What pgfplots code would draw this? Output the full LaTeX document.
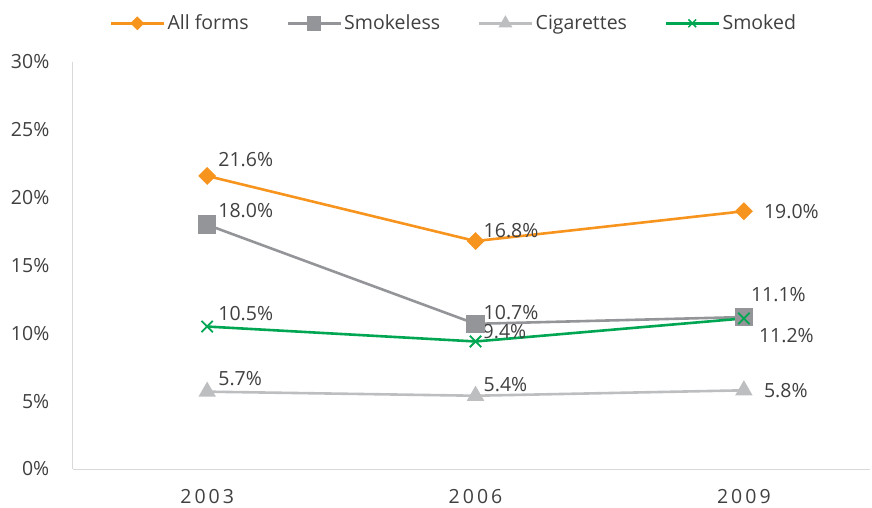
\documentclass[border=0pt]{standalone}
\usepackage{pgfplots}
\pgfplotsset{compat=1.18}
\usepackage{fontspec}
\setmainfont{Open Sans}
\definecolor{cAll}{HTML}{F7941D}
\definecolor{cSmkl}{HTML}{939598}
\definecolor{cCig}{HTML}{BCBEC0}
\definecolor{cSmkd}{HTML}{00A651}
\definecolor{txt}{HTML}{404040}
\definecolor{axl}{HTML}{D9D9D9}
\newcommand{\fs}{\fontsize{19.5}{22}\selectfont}
\begin{document}
\fs
\begin{tikzpicture}[x=1pt,y=1pt]
\path[use as bounding box] (-73,-39) rectangle (799,469);
\begin{axis}[
  at={(0,0)}, anchor=south west,
  scale only axis, width=797pt, height=407pt,
  xmin=-0.5, xmax=2.47, ymin=0, ymax=30,
  xtick={0,1,2}, xticklabels={2\hspace{3pt}0\hspace{3pt}0\hspace{3pt}3,2\hspace{3pt}0\hspace{3pt}0\hspace{3pt}6,2\hspace{3pt}0\hspace{3pt}0\hspace{3pt}9},
  ytick={0,5,10,15,20,25,30},
  yticklabels={0\%,5\%,10\%,15\%,20\%,25\%,30\%},
  major tick length=0pt,
  axis x line*=bottom, axis y line*=left,
  axis line style={axl, line width=1pt, -},
  every axis x line/.append style={-},
  every axis y line/.append style={-},
  ticklabel style={text=txt, font=\fs},
  yticklabel style={xshift=-17pt},
  xticklabel style={yshift=-14pt},
  legend style={at={(0.478,1.095)}, anchor=center, draw=none, fill=none,
    legend columns=-1, font=\fs, text=txt,
    /tikz/every even column/.append style={column sep=36pt}},
  legend image code/.code={\draw[mark repeat=2,mark phase=2] plot coordinates {(0pt,0pt) (26pt,0pt) (53pt,0pt)};},
  every axis plot/.append style={line width=2.6pt},
  clip=false,
]
\addlegendimage{cAll, line width=2.6pt, mark=square*, mark size=3.6pt, mark options={rotate=45, solid}}
\addlegendentry{All forms}
\addlegendimage{cSmkl, line width=2.6pt, mark=square*, mark size=6pt, mark options={solid}}
\addlegendentry{Smokeless}
\addlegendimage{cCig, line width=2.6pt, mark=triangle*, mark size=5.5pt, mark options={solid}}
\addlegendentry{Cigarettes}
\addlegendimage{cSmkd, line width=2.6pt, mark=x, mark size=5.5pt, mark options={solid, line width=1.5pt}}
\addlegendentry{Smoked}
\addplot[forget plot, cAll, mark=square*, mark size=5pt, mark options={rotate=45, solid}] coordinates {(0,21.6) (1,16.8) (2,19.0)};
\addplot[forget plot, cSmkl, mark=square*, mark size=8pt, mark options={solid}] coordinates {(0,18.0) (1,10.7) (2,11.2)};
\addplot[forget plot, cCig, mark=triangle*, mark size=7.5pt, mark options={solid}] coordinates {(0,5.7) (1,5.4) (2,5.8)};
\addplot[forget plot, cSmkd, mark=x, mark size=8pt, mark options={solid, line width=1.8pt}] coordinates {(0,10.5) (1,9.4) (2,11.1)};
\begin{scope}[every node/.style={text=txt, inner sep=0pt, anchor=base west, font=\fs}]
\node[xshift=11pt, yshift=9pt] at (axis cs:0,21.6) {21.6\%};
\node[xshift=8pt, yshift=4pt] at (axis cs:1,16.8) {16.8\%};
\node[xshift=20pt, yshift=-7pt] at (axis cs:2,19.0) {19.0\%};
\node[xshift=11pt, yshift=7pt] at (axis cs:0,18.0) {18.0\%};
\node[xshift=8pt, yshift=4pt] at (axis cs:1,10.7) {10.7\%};
\node[xshift=15pt, yshift=-25pt] at (axis cs:2,11.2) {11.2\%};
\node[xshift=11pt, yshift=6pt] at (axis cs:0,10.5) {10.5\%};
\node[xshift=7pt, yshift=3pt] at (axis cs:1,9.4) {9.4\%};
\node[xshift=7pt, yshift=17pt] at (axis cs:2,11.1) {11.1\%};
\node[xshift=11pt, yshift=6pt] at (axis cs:0,5.7) {5.7\%};
\node[xshift=8pt, yshift=4pt] at (axis cs:1,5.4) {5.4\%};
\node[xshift=20pt, yshift=-7pt] at (axis cs:2,5.8) {5.8\%};
\end{scope}
\end{axis}
\end{tikzpicture}
\end{document}
